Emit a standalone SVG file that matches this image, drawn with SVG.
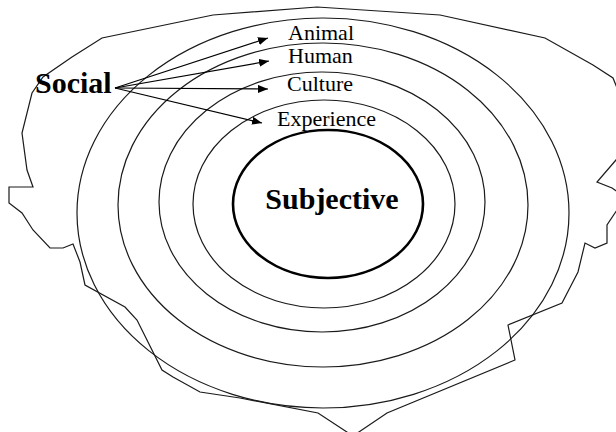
<svg xmlns="http://www.w3.org/2000/svg" width="616" height="432" viewBox="0 0 616 432">
  <style>
    .ring { fill: none; stroke: #1a1a1a; stroke-width: 1.2; }
    .core { fill: none; stroke: #000; stroke-width: 2.6; }
    .blob { fill: none; stroke: #1a1a1a; stroke-width: 1.2; stroke-linejoin: miter; }
    .lbl { font-family: "Liberation Serif", "Times New Roman", serif; font-size: 22px; fill: #000; }
    .big { font-family: "Liberation Serif", "Times New Roman", serif; font-size: 30px; font-weight: bold; fill: #000; }
    .arrow { fill: none; stroke: #000; stroke-width: 1.2; marker-end: url(#head); }
  </style>
  <defs>
    <marker id="head" viewBox="0 0 10 8" refX="10" refY="4" markerWidth="10" markerHeight="8" markerUnits="userSpaceOnUse" orient="auto">
      <path d="M0,0 L10,4 L0,8 Z" fill="#000"/>
    </marker>
  </defs>
  <rect width="616" height="432" fill="#fff"/>

  <!-- irregular outer boundary -->
  <g id="boundary">
    <path class="blob" d="M213,15 L317,7 L440,15 L545,38 L593,65 L613,78 L622,100 L622,150 L616,160 L597,182 L612,188 L622,195 L617,210 L607,225 L607,243 L595,248 L585,243 L578,272 L562,303 L508,325 L515,360 L387,413 L353,436 L318,413 L240,398 L200,392 L173,377 L162,370 L137,320 L125,307 L85,285 L80,262 L73,244 L63,248 L50,248 L33,230 L22,213 L9,203 L9,187 L33,187 L27,170 L22,133 L32,93 L43,77 L72,57 L102,38 Z"/>
  </g>

  <!-- concentric rings -->
  <g id="animal-ring"><ellipse class="ring" cx="323" cy="213" rx="246" ry="195"/></g>
  <g id="human-ring"><ellipse class="ring" cx="323" cy="205" rx="205" ry="162"/></g>
  <g id="culture-ring"><ellipse class="ring" cx="322" cy="202" rx="163" ry="130"/></g>
  <g id="experience-ring"><ellipse class="ring" cx="324" cy="204" rx="131" ry="104"/></g>

  <g id="subjective">
    <ellipse class="core" cx="328" cy="204" rx="95" ry="74"/>
    <text class="big" x="332" y="209" text-anchor="middle">Subjective</text>
  </g>

  <g id="labels">
    <text class="lbl" x="288" y="40">Animal</text>
    <text class="lbl" x="288" y="63">Human</text>
    <text class="lbl" x="287" y="91">Culture</text>
    <text class="lbl" x="277" y="126">Experience</text>
  </g>

  <g id="social">
    <text class="big" x="35" y="93">Social</text>
  </g>

  <g id="connectors">
    <line class="arrow" x1="115" y1="88" x2="268" y2="38"/>
    <line class="arrow" x1="115" y1="88" x2="269" y2="61"/>
    <line class="arrow" x1="115" y1="88" x2="268" y2="89"/>
    <line class="arrow" x1="115" y1="88" x2="262" y2="123"/>
  </g>
</svg>
